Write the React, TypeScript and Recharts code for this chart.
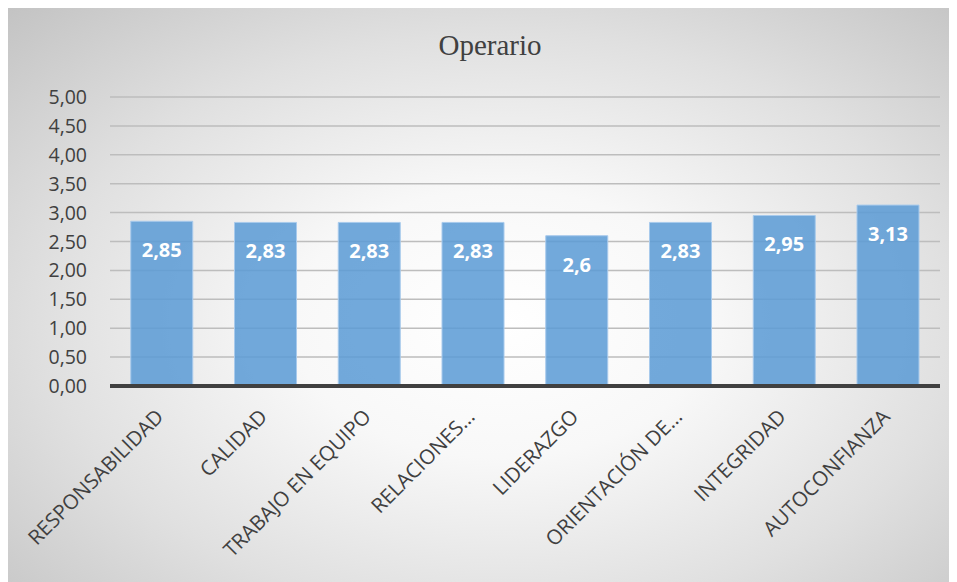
import { BarChart, Bar, XAxis, YAxis, CartesianGrid, LabelList } from "recharts";

const categories = [
  "RESPONSABILIDAD",
  "CALIDAD",
  "TRABAJO EN EQUIPO",
  "RELACIONES…",
  "LIDERAZGO",
  "ORIENTACIÓN DE…",
  "INTEGRIDAD",
  "AUTOCONFIANZA",
];
const puntajes = [2.85, 2.83, 2.83, 2.83, 2.6, 2.83, 2.95, 3.13];
const yTicks = [0, 0.5, 1, 1.5, 2, 2.5, 3, 3.5, 4, 4.5, 5];

const data = categories.map((name, i) => ({ name, valor: puntajes[i] }));

const FONT = "'Open Sans', sans-serif";

const YTick = ({ x, y, payload }: any) => (
  <text x={x - 23} y={y + 7} textAnchor="end" fill="#404040" fontSize={19.5} fontFamily={FONT}>
    {payload.value.toFixed(2).replace(".", ",")}
  </text>
);

const XTick = ({ x, y, payload }: any) => {
  const tx = x + 3;
  const ty = y + 32;
  return (
    <text x={tx} y={ty} textAnchor="end" fill="#404040" fontSize={20.5} fontFamily={FONT} transform={`rotate(-45, ${tx}, ${ty})`}>
      {payload.value}
    </text>
  );
};

const ValueLabel = ({ x, y, width, value }: any) => (
  <text x={x + width / 2} y={y + 36} textAnchor="middle" fill="#ffffff" fontSize={20} fontWeight={700} fontFamily={FONT}>
    {String(value).replace(".", ",")}
  </text>
);

export default function App() {
  return (
    <div
      style={{
        position: "relative",
        width: 949,
        height: 574,
        background: "radial-gradient(ellipse at 52% 55%, #ffffff 0%, #f8f8f8 30%, #e0e0e0 65%, #c3c3c3 100%)",
      }}
    >
      <div
        style={{
          position: "absolute",
          top: 21,
          left: 0,
          width: 964,
          textAlign: "center",
          fontFamily: "'Liberation Serif', serif",
          fontSize: 29,
          color: "#404040",
        }}
      >
        Operario
      </div>
      <BarChart width={949} height={574} data={data} margin={{ top: 89, right: 17, bottom: 0, left: 0 }} barCategoryGap="20%">
        <CartesianGrid vertical={false} stroke="#bdbdbd" strokeWidth={1.5} />
        <YAxis
          domain={[0, 5]}
          ticks={yTicks}
          width={102}
          axisLine={false}
          tickLine={false}
          tickSize={0}
          tickMargin={0}
          tick={<YTick />}
          interval={0}
        />
        <XAxis
          dataKey="name"
          height={196}
          axisLine={{ stroke: "#404040", strokeWidth: 4 }}
          tickLine={false}
          tickSize={0}
          tickMargin={0}
          tick={<XTick />}
          interval={0}
        />
        <Bar dataKey="valor" fill="#5b9bd5" fillOpacity={0.86} stroke="#a8caec" strokeWidth={1} isAnimationActive={false}>
          <LabelList dataKey="valor" content={<ValueLabel />} />
        </Bar>
      </BarChart>
    </div>
  );
}
